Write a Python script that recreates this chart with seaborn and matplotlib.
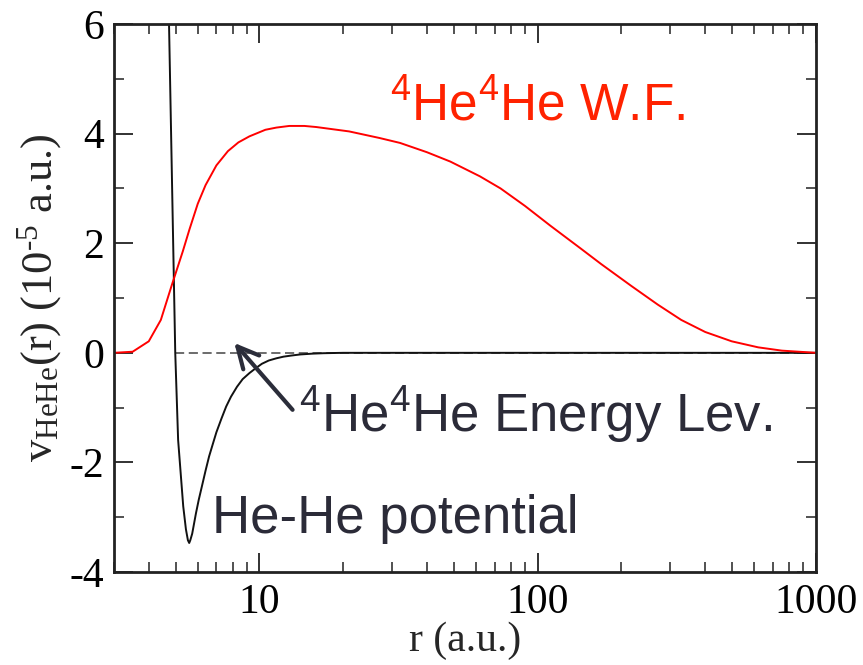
import numpy as np
import pandas as pd
import matplotlib
matplotlib.use('Agg')
import matplotlib.pyplot as plt
import seaborn as sns
from matplotlib.ticker import LogLocator, NullFormatter, MultipleLocator

# ========== 数据 ==========
# He-He 势能曲线 (10^-5 a.u.)
pot_r = [4.5, 4.73, 4.98, 5.10, 5.32, 5.44, 5.53, 5.59, 5.64, 5.73, 5.91, 6.05, 6.2, 6.4,
         6.59, 6.8, 7.0, 7.3, 7.59, 7.9, 8.3, 8.7, 9.2, 9.7, 10.2, 10.8, 11.5, 12.2, 13.0,
         14.0, 15.5, 17.0, 20.0, 50.0, 1000.0]
pot_v = [12.0, 6.0, 0.0, -1.59, -2.80, -3.22, -3.42, -3.47, -3.42, -3.30, -2.93, -2.68, -2.45, -2.15,
         -1.89, -1.66, -1.45, -1.20, -0.98, -0.80, -0.62, -0.48, -0.37, -0.28, -0.20, -0.14, -0.10, -0.07, -0.05,
         -0.03, -0.015, -0.007, 0.0, 0.0, 0.0]

# 4He4He 波函数
wf_r = [3.0, 3.5, 4.0, 4.42, 4.85, 5.3, 5.6, 6.0, 6.4, 7.0, 7.7, 8.4, 9.2, 10.5, 11.5, 12.8, 14.5,
        16, 21, 27, 32, 40, 48.5, 62, 73.5, 90, 111, 143, 169, 217, 270, 328, 400, 498, 620, 754, 1000]
wf_v = [0.0, 0.02, 0.21, 0.60, 1.25, 1.85, 2.25, 2.72, 3.06, 3.42, 3.68, 3.84, 3.95, 4.07, 4.11, 4.14, 4.14,
        4.12, 4.04, 3.92, 3.83, 3.66, 3.49, 3.22, 3.00, 2.68, 2.32, 1.90, 1.62, 1.22, 0.88, 0.60, 0.38,
        0.21, 0.10, 0.04, 0.0]

# 能级（虚线）
lev_r = [4.98, 1000.0]
lev_e = [0.0, 0.0]

x_ticks = [10, 100, 1000]
x_ticklabels = ['10', '100', '1000']
y_ticks = [-4, -2, 0, 2, 4, 6]
y_ticklabels = ['-4', '-2', '0', '2', '4', '6']

df_pot = pd.DataFrame({'r': pot_r, 'v': pot_v})
df_wf = pd.DataFrame({'r': wf_r, 'v': wf_v})
df_lev = pd.DataFrame({'r': lev_r, 'v': lev_e})

# ========== 样式 ==========
sns.set_style('ticks')
plt.rcParams['font.family'] = ['Liberation Serif', 'DejaVu Serif']
plt.rcParams['mathtext.fontset'] = 'custom'
plt.rcParams['mathtext.rm'] = 'Liberation Serif'
plt.rcParams['mathtext.sf'] = 'Liberation Sans'
plt.rcParams['mathtext.it'] = 'Liberation Serif:italic'
plt.rcParams['axes.unicode_minus'] = False

fig = plt.figure(figsize=(8.63, 6.65), dpi=100)
ax = fig.add_axes([0.1321, 0.1398, 0.8134, 0.8241])

sns.lineplot(data=df_lev, x='r', y='v', ax=ax, color='#444444', lw=1.1,
             linestyle=(0, (6, 3)), estimator=None, sort=False)
sns.lineplot(data=df_pot, x='r', y='v', ax=ax, color='#111111', lw=1.4,
             estimator=None, sort=False)
sns.lineplot(data=df_wf, x='r', y='v', ax=ax, color='#ff0000', lw=1.4,
             estimator=None, sort=False)

ax.set_xscale('log')
ax.set_xlim(3, 1000)
ax.set_ylim(-4, 6)

ax.set_xticks(x_ticks)
ax.set_xticklabels(x_ticklabels)
ax.xaxis.set_minor_locator(LogLocator(base=10, subs=np.arange(2, 10)))
ax.xaxis.set_minor_formatter(NullFormatter())
ax.set_yticks(y_ticks)
ax.set_yticklabels(y_ticklabels)
ax.yaxis.set_minor_locator(MultipleLocator(1))

ax.tick_params(which='both', direction='in', top=True, right=True, colors='#222222',
               labelcolor='black', labelsize=30)
ax.tick_params(which='major', length=14, width=1.3)
ax.tick_params(which='minor', length=7.5, width=1.1)
ax.tick_params(axis='x', which='major', pad=8)
ax.tick_params(axis='y', which='major', pad=7)
for sp in ax.spines.values():
    sp.set_linewidth(2.0)
    sp.set_color('#222222')

ax.set_xlabel('r (a.u.)', fontsize=30, labelpad=0)
ax.set_ylabel(r'v$_{\mathrm{HeHe}}$(r) (10$^{\text{-}5}$ a.u.)', fontsize=32, labelpad=4)

# ========== 注释 ==========
ax.text(29.4, 4.23, r'$\mathsf{^4}$He$\mathsf{^4}$He W.F.', color='#ff2200', fontsize=37,
        va='baseline', family='Liberation Sans')
ax.text(13.9, -1.44, r'$\mathsf{^4}$He$\mathsf{^4}$He Energy Lev.', color='#2b2b38', fontsize=38,
        va='baseline', family='Liberation Sans')
ax.text(6.77, -3.28, 'He-He potential', color='#2b2b38', fontsize=38, va='baseline',
        family='Liberation Sans')
ax.annotate('', xy=(8.12, 0.18), xytext=(13.15, -1.04),
            arrowprops=dict(arrowstyle='->', lw=3, color='#2b2d3a', mutation_scale=38,
                            shrinkA=0, shrinkB=0))

plt.savefig('out.png', dpi=100)
